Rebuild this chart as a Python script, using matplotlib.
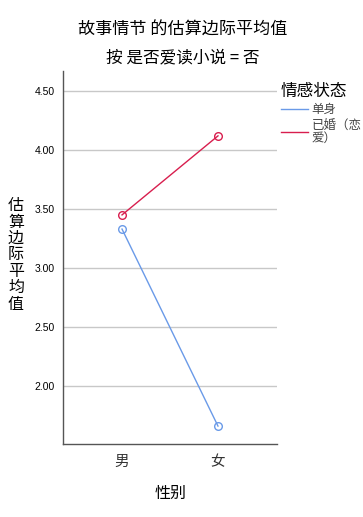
import matplotlib
matplotlib.use("Agg")
import matplotlib.pyplot as plt

plt.rcParams['font.family'] = ['Noto Sans CJK SC', 'DejaVu Sans']

# data
genders = ["男", "女"]
single = [3.33, 1.66]
married = [3.45, 4.12]
series_names = ["单身", "已婚（恋\n爱）"]
yticks = [2.00, 2.50, 3.00, 3.50, 4.00, 4.50]

blue = "#6a9ae8"
red = "#d81e4e"

fig = plt.figure(figsize=(3.63, 5.17), dpi=100)
ax = fig.add_axes([63 / 363, 1 - 444 / 517, 214 / 363, 373 / 517])

x = list(range(len(genders)))
l1, = ax.plot(x, single, color=blue, lw=1, marker="o", ms=5.5,
              mfc="none", mec=blue, mew=1)
l2, = ax.plot(x, married, color=red, lw=1, marker="o", ms=5.5,
              mfc="none", mec=red, mew=1)

ax.set_xlim(-0.615, 1.615)
ax.set_ylim(1.508, 4.67)
ax.set_xticks(x)
ax.set_xticklabels(genders, fontsize=10.5, color="#333333")
ax.set_yticks(yticks)
ax.set_yticklabels([f"{v:.2f}" for v in yticks], fontsize=7.5,
                   family=["Liberation Sans", "DejaVu Sans"])
ax.tick_params(axis="both", length=0, pad=6)
ax.tick_params(axis="x", pad=8)
ax.grid(True, axis="y", color="#c8c8c8", lw=1)
ax.set_axisbelow(True)
for side in ["top", "right"]:
    ax.spines[side].set_visible(False)
for side in ["left", "bottom"]:
    ax.spines[side].set_color("#555555")
    ax.spines[side].set_linewidth(1)

fig.text(183 / 363, 1 - 30 / 517, "故事情节 的估算边际平均值", ha="center", va="center",
         fontsize=12.3, weight="medium")
fig.text(183 / 363, 1 - 58 / 517, "按 是否爱读小说 = 否", ha="center", va="center",
         fontsize=12, weight="medium")
fig.text(171 / 363, 1 - 493 / 517, "性别", ha="center", va="center", fontsize=11.5,
         weight="medium")
fig.text(16 / 363, 1 - 255 / 517, "\n".join("估算边际平均值"), ha="center", va="center",
         fontsize=11.5, linespacing=0.95, weight="medium")

leg = fig.legend([l1, l2], series_names, title="情感状态", loc="upper left",
                 bbox_to_anchor=(272 / 363, 1 - 74 / 517), frameon=False,
                 fontsize=9, title_fontsize=12, handlelength=2.2,
                 handletextpad=0.25, borderpad=0.2, labelspacing=0.25)
for h in leg.legend_handles:
    h.set_marker("")
leg._legend_box.align = "left"
leg.get_title().set_weight("medium")
for t in leg.get_texts():
    t.set_color("#444444")
    t.set_linespacing(0.95)

fig.savefig("out.png", dpi=100)
